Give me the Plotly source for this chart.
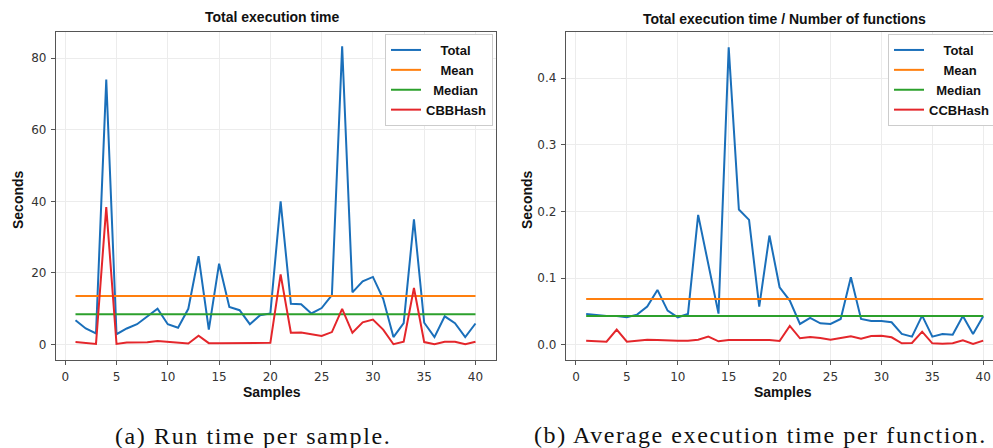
import plotly.graph_objects as go

samples = list(range(1, 41))

# (a) Total execution time (seconds)
total_a = [6.8, 4.5, 3.1, 74.0, 2.9, 4.5, 5.7, 7.9, 10.0, 5.7,
           4.7, 10.0, 24.7, 4.2, 22.6, 10.5, 9.6, 5.7, 8.2, 8.7,
           40.0, 11.4, 11.3, 8.7, 10.2, 13.8, 83.3, 14.6, 17.7, 18.9,
           12.8, 2.1, 6.0, 35.0, 6.1, 2.1, 7.9, 6.0, 2.1, 5.9]
cbb_a = [0.7, 0.5, 0.2, 38.4, 0.2, 0.6, 0.7, 0.65, 1.0, 0.8,
         0.5, 0.3, 2.5, 0.4, 0.4, 0.4, 0.4, 0.5, 0.3, 0.5,
         19.6, 3.3, 3.4, 2.8, 2.4, 3.5, 10.0, 3.3, 6.2, 7.0,
         4.2, 0.1, 0.8, 15.8, 0.7, 0.1, 0.8, 0.8, 0.1, 0.8]
mean_a = 13.6
median_a = 8.5

# (b) Total execution time / number of functions (seconds)
total_b = [0.0465, 0.0445, 0.0435, 0.0435, 0.0415, 0.0455, 0.0575, 0.0825, 0.0515, 0.0415,
           0.0465, 0.195, 0.12, 0.047, 0.446, 0.203, 0.1875, 0.0575, 0.164, 0.0865,
           0.0665, 0.0315, 0.0405, 0.0325, 0.0315, 0.039, 0.1015, 0.039, 0.036, 0.036,
           0.034, 0.0165, 0.0125, 0.044, 0.0125, 0.0165, 0.0155, 0.0435, 0.0165, 0.043]
ccb_b = [0.0065, 0.006, 0.005, 0.023, 0.005, 0.0065, 0.008, 0.0075, 0.0065, 0.0065,
         0.0065, 0.008, 0.0125, 0.0055, 0.0075, 0.0075, 0.0075, 0.0065, 0.0075, 0.006,
         0.0285, 0.01, 0.012, 0.0105, 0.008, 0.0105, 0.013, 0.0095, 0.0135, 0.014,
         0.0115, 0.0025, 0.003, 0.02, 0.0025, 0.002, 0.0025, 0.007, 0.0015, 0.0065]
mean_b = 0.069
median_b = 0.0435

x_ticks = [0, 5, 10, 15, 20, 25, 30, 35, 40]
y_ticks_a = [0, 20, 40, 60, 80]
y_ticks_b = [0.0, 0.1, 0.2, 0.3, 0.4]

names_a = ["Total", "Mean", "Median", "CBBHash"]
names_b = ["Total", "Mean", "Median", "CCBHash"]
colors = ["#1a6fba", "#ff7f0e", "#2ca02c", "#e4262b"]

W, H = 993, 448
NB = "\u00a0"
pad = [4, 4, 2, 0]


def lbl(name, i):
    return NB * pad[i] + name


fig = go.Figure()

series_a = [total_a, [mean_a] * 40, [median_a] * 40, cbb_a]
series_b = [total_b, [mean_b] * 40, [median_b] * 40, ccb_b]
for i, ys in enumerate(series_a):
    fig.add_trace(go.Scatter(x=samples, y=ys, mode="lines", name=lbl(names_a[i], i),
                             line=dict(color=colors[i], width=2),
                             xaxis="x", yaxis="y", legend="legend"))
for i, ys in enumerate(series_b):
    fig.add_trace(go.Scatter(x=samples, y=ys, mode="lines", name=lbl(names_b[i], i),
                             line=dict(color=colors[i], width=2),
                             xaxis="x2", yaxis="y2", legend="legend2"))

frame = "#555555"
grid = "#ececec"
tickfont = dict(family="DejaVu Sans", size=12, color="#333333")
bold = dict(family="Liberation Sans", size=14, color="#111111")
legfont = dict(family="Liberation Sans", size=13, color="#111111", weight="bold")

ydom = [(H - 360) / H, (H - 32) / H]
common_x = dict(tickvals=x_ticks, showgrid=True, gridcolor=grid, gridwidth=1,
                showline=True, linecolor=frame, linewidth=1.3, ticks="outside",
                ticklen=4, tickcolor=frame, tickfont=tickfont, zeroline=False,
                mirror=True, ticklabelstandoff=1)
common_y = dict(showgrid=True, gridcolor=grid, gridwidth=1,
                showline=True, linecolor=frame, linewidth=1.3, ticks="outside",
                ticklen=4, tickcolor=frame, tickfont=tickfont, zeroline=False,
                ticklabelstandoff=2)

fig.update_layout(
    width=W, height=H,
    margin=dict(l=0, r=0, t=0, b=0, autoexpand=False),
    paper_bgcolor="white", plot_bgcolor="white",
    showlegend=True,
    xaxis=dict(common_x, domain=[56 / W, 496 / W], range=[-0.9, 42.0], anchor="y"),
    yaxis=dict(common_y, domain=ydom, range=[-4.3, 87.3], tickvals=y_ticks_a,
               anchor="x", mirror=True),
    xaxis2=dict(common_x, domain=[566 / W, 1.0], range=[-0.98, 40.96], anchor="y2"),
    yaxis2=dict(common_y, domain=ydom, range=[-0.0225, 0.469], tickvals=y_ticks_b,
                tickformat=".1f", anchor="x2", mirror=False),
    legend=dict(x=385 / W, y=1 - 34 / H, xanchor="left", yanchor="top",
                bgcolor="white", bordercolor="#cccccc", borderwidth=1,
                font=legfont, tracegroupgap=0),
    legend2=dict(x=888 / W, y=1 - 34 / H, xanchor="left", yanchor="top",
                 bgcolor="white", bordercolor="#cccccc", borderwidth=1,
                 font=legfont, tracegroupgap=0),
)

capfont = dict(family="Liberation Serif", size=24, color="#111111")
ann = [
    dict(text="<b>Total execution time</b>", x=272 / W, y=1 - 17 / H, font=bold),
    dict(text="<b>Total execution time / Number of functions</b>", x=784 / W, y=1 - 19 / H, font=bold),
    dict(text="<b>Samples</b>", x=272 / W, y=1 - 392 / H, font=bold),
    dict(text="<b>Samples</b>", x=783 / W, y=1 - 392 / H, font=bold),
    dict(text="<b>Seconds</b>", x=18 / W, y=1 - 200 / H, font=bold, textangle=-90),
    dict(text="<b>Seconds</b>", x=527 / W, y=1 - 200 / H, font=bold, textangle=-90),
    dict(text='<span style="letter-spacing:1.6px">(a) Run time per sample.</span>',
         x=253 / W, y=1 - 436 / H, font=capfont),
    dict(text='<span style="letter-spacing:1.6px">(b) Average execution time per function.</span>',
         x=760 / W, y=1 - 435 / H, font=capfont),
]
for a in ann:
    a.update(xref="paper", yref="paper", showarrow=False, xanchor="center", yanchor="middle")
    fig.add_annotation(**a)

fig.write_html("out.html")
